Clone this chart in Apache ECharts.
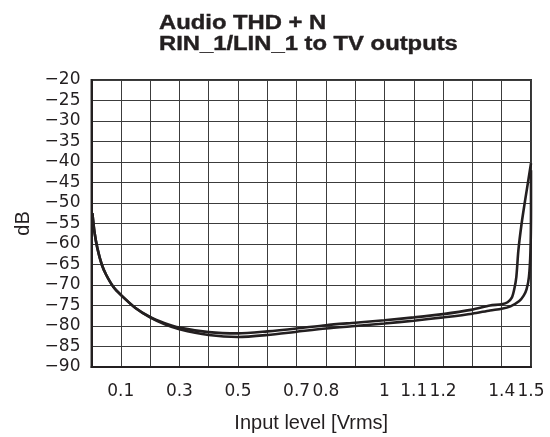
<!DOCTYPE html>
<html>
<head>
<meta charset="utf-8">
<script src="https://cdn.jsdelivr.net/npm/echarts@6/dist/echarts.min.js"></script>
<style>
  html, body { margin: 0; padding: 0; background: #ffffff; }
  #chart { width: 550px; height: 437px; }
</style>
</head>
<body>
<div id="chart"></div>
<script>
// THD+N curves, RIN_1/LIN_1 routed to the TV outputs
const titleLines = ['Audio THD + N', 'RIN_1/LIN_1 to TV outputs'];

// Upper curve (clips first)
const levelA = [0.003, 0.01, 0.02, 0.035, 0.05, 0.075, 0.1, 0.15, 0.2, 0.25, 0.3, 0.4, 0.5, 0.6, 0.7, 0.8, 0.9, 1.0, 1.1, 1.2, 1.3, 1.36, 1.4, 1.42, 1.435, 1.443, 1.45, 1.457, 1.468, 1.48, 1.491, 1.5];
const thdA   = [-52.5, -57, -61, -65, -67.5, -70.5, -72.4, -75.6, -77.8, -79.3, -80.4, -81.5, -81.8, -81.3, -80.6, -79.8, -79.2, -78.6, -77.9, -77.1, -76.0, -75.0, -74.7, -74.2, -73.0, -71.0, -68.0, -61.5, -55.0, -49.3, -44.4, -40.3];

// Lower curve (clips at full scale)
const levelB = [0.003, 0.01, 0.02, 0.035, 0.05, 0.075, 0.1, 0.15, 0.2, 0.25, 0.3, 0.4, 0.5, 0.6, 0.7, 0.8, 0.9, 1.0, 1.1, 1.2, 1.3, 1.36, 1.4, 1.43, 1.46, 1.475, 1.485, 1.493, 1.498, 1.5, 1.5];
const thdB   = [-52.5, -57, -61, -65, -67.5, -70.5, -72.4, -75.6, -77.9, -79.6, -80.8, -82.2, -82.7, -82.2, -81.4, -80.6, -80.0, -79.4, -78.7, -77.9, -77.0, -76.2, -75.8, -75.2, -73.9, -72.6, -71.0, -68.0, -62.0, -52.0, -42.0];

// Labelled positions on the level axis
const levelTicks = [0.1, 0.3, 0.5, 0.7, 0.8, 1, 1.1, 1.2, 1.4, 1.5];

const ink = '#231f20';
const font = '"Liberation Sans", Arial, sans-serif';
const tickFont = '"DejaVu Sans", "Liberation Sans", sans-serif';
const pair = (xs, ys) => xs.map((x, i) => [x, ys[i]]);

const chart = echarts.init(document.getElementById('chart'), null, { renderer: 'canvas' });

const curveStyle = {
  type: 'line',
  showSymbol: false,
  smooth: 0.25,
  lineStyle: { color: ink, width: 2.6 },
  animation: false
};

chart.setOption({
  animation: false,
  backgroundColor: '#ffffff',
  graphic: [
    {
      type: 'text', x: 159, y: 23, scaleX: 1.19,
      style: { text: titleLines[0], fontFamily: font, fontWeight: 'bold', fontSize: 20, fill: ink, stroke: ink, lineWidth: 0.4, verticalAlign: 'middle', align: 'left' }
    },
    {
      type: 'text', x: 159, y: 44, scaleX: 1.19,
      style: { text: titleLines[1], fontFamily: font, fontWeight: 'bold', fontSize: 20, fill: ink, stroke: ink, lineWidth: 0.4, verticalAlign: 'middle', align: 'left' }
    }
  ],
  grid: {
    left: 91.5, right: 19, top: 80, bottom: 70,
    containLabel: false,
    outerBoundsMode: 'none',
    show: true, borderColor: '#333333', borderWidth: 2, backgroundColor: 'transparent'
  },
  xAxis: {
    type: 'value',
    min: 0, max: 1.5, interval: 0.1,
    name: 'Input level [Vrms]',
    nameLocation: 'middle',
    nameGap: 46,
    nameTextStyle: { fontFamily: font, fontSize: 20, color: ink },
    axisLine: { lineStyle: { color: ink, width: 2 } },
    axisTick: { show: false },
    splitLine: { show: true, lineStyle: { color: '#3c3c3c', width: 1 } },
    axisLabel: {
      margin: 16,
      hideOverlap: false,
      showMinLabel: true,
      showMaxLabel: true,
      fontFamily: tickFont,
      fontSize: 17,
      color: ink,
      formatter: function (v) {
        const r = Math.round(v * 10) / 10;
        return levelTicks.some(t => Math.abs(t - r) < 1e-6) ? String(r) : '';
      }
    }
  },
  yAxis: {
    type: 'value',
    min: -90, max: -20, interval: 5,
    name: 'dB',
    nameLocation: 'middle',
    nameGap: 58,
    nameRotate: 90,
    nameTextStyle: { fontFamily: font, fontSize: 20, color: ink },
    axisLine: { show: true, lineStyle: { color: ink, width: 2 } },
    axisTick: { show: false },
    splitLine: { show: true, lineStyle: { color: '#3c3c3c', width: 1 } },
    axisLabel: {
      margin: 11,
      fontFamily: tickFont,
      fontSize: 17,
      color: ink,
      formatter: v => (v < 0 ? '\u2212' + Math.abs(v) : String(v))
    }
  },
  series: [
    Object.assign({ name: 'A', data: pair(levelA, thdA) }, curveStyle),
    Object.assign({ name: 'B', data: pair(levelB, thdB) }, curveStyle)
  ]
});
</script>
</body>
</html>
